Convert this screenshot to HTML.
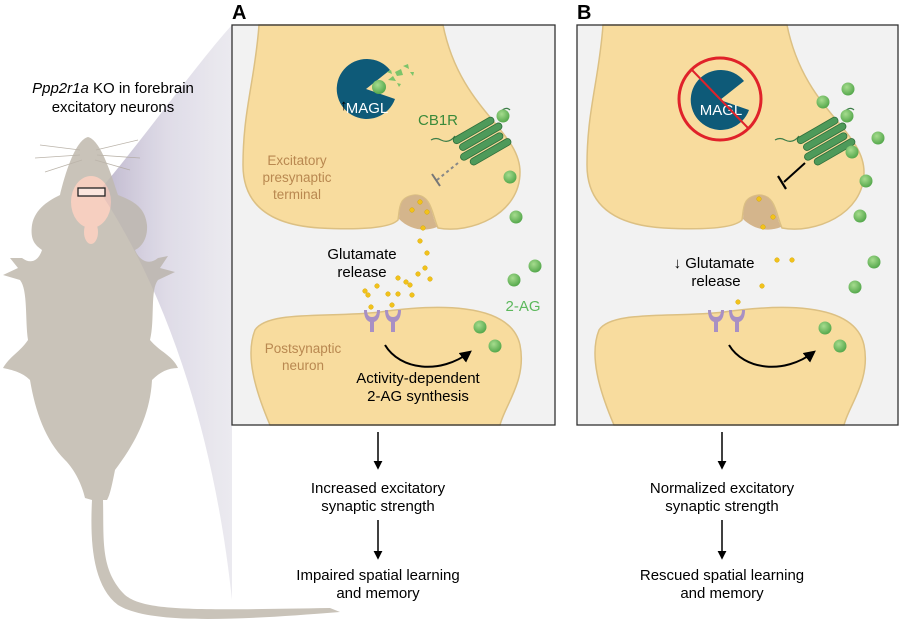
<!DOCTYPE html>
<html><head><meta charset="utf-8"><style>
html,body{margin:0;padding:0;background:#fff;}
svg{display:block;font-family:"Liberation Sans",Arial,sans-serif;}
</style></head><body>
<svg width="900" height="621" viewBox="0 0 900 621" xmlns="http://www.w3.org/2000/svg">
<defs>
<linearGradient id="cone" x1="0" y1="0" x2="1" y2="0">
<stop offset="0" stop-color="#8e7fa8" stop-opacity="0.5"/>
<stop offset="0.5" stop-color="#c4bdd6" stop-opacity="0.35"/>
<stop offset="1" stop-color="#ecebf1" stop-opacity="0.3"/>
</linearGradient>
<radialGradient id="gb" cx="0.4" cy="0.35" r="0.7">
<stop offset="0" stop-color="#a6dc8e"/><stop offset="1" stop-color="#4fa447"/>
</radialGradient>
<marker id="ah" viewBox="0 0 10 10" refX="8" refY="5" markerWidth="6" markerHeight="6" orient="auto"><path d="M0,0 L10,5 L0,10 z" fill="#000"/></marker>
<g id="pre">
<path d="M259,25 C255,80 243,110 243,165 C243,205 270,225 320,228 C360,230 390,228 398,220 C400,208 398,197 415,195 C432,195 432,215 438,228 C470,234 520,215 520,172 C520,130 460,110 443,25 Z" fill="#f8dc9e" stroke="#dcc083" stroke-width="1.5"/>
<path d="M399,219 C400,206 400,197 415,195 C431,195 431,214 437,227 C425,232 410,230 399,219 Z" fill="#d4b58c"/>
<path d="M270,425 C255,390 245,355 255,330 C268,310 330,318 380,312 C430,305 510,300 520,345 C527,380 505,405 500,425 Z" fill="#f8dc9e" stroke="#dcc083" stroke-width="1.5"/>
<g fill="#a890c4"><path d="M364,310 q0,10 6,12 v10 h4 v-10 q6,-2 6,-12 h-3 q0,7 -5,7 q-5,0 -5,-7z"/><path d="M385,310 q0,10 6,12 v10 h4 v-10 q6,-2 6,-12 h-3 q0,7 -5,7 q-5,0 -5,-7z"/></g>
<path d="M385,345 C400,370 440,375 470,352" fill="none" stroke="#000" stroke-width="2" marker-end="url(#ah)"/>
<path d="M455,136 q-6,8 -14,4 q-5,-3 -10,0" fill="none" stroke="#3c7d48" stroke-width="1.2"/>
<path d="M500,112 q6,-6 10,-2" fill="none" stroke="#3c7d48" stroke-width="1.2"/>
<g transform="translate(478,140) rotate(-30)" fill="#4e9a5a" stroke="#2f6e3a" stroke-width="0.8">
<rect x="-22" y="-14" width="46" height="7" rx="3.5"/>
<rect x="-20" y="-5" width="48" height="7" rx="3.5"/>
<rect x="-24" y="4" width="48" height="7" rx="3.5"/>
<rect x="-18" y="13" width="46" height="7" rx="3.5"/>
</g>
</g>
</defs>

<path d="M100,190 C150,130 200,60 232,25 L232,600 C215,440 170,300 104,198 Z" fill="url(#cone)"/>

<g fill="#c9c3b9">
<path d="M88,137 C100,140 110,170 118,195 C130,200 145,205 147,225 C148,240 140,248 135,250 C140,262 150,265 158,258 L168,256 L160,268 L175,272 L158,280 C150,290 155,320 150,340 C160,352 172,355 178,368 C168,368 160,372 152,380 C150,420 130,450 115,470 C112,485 110,495 107,500 L103,500 C104,540 100,570 125,595 C145,612 200,610 330,608 L340,612 C240,620 150,625 118,605 C92,585 90,540 92,500 L85,498 C82,485 75,470 65,460 C45,440 35,410 30,380 C22,372 12,370 3,368 C10,356 20,352 28,340 C25,320 28,290 20,280 L3,275 L18,268 L10,258 L22,258 C30,264 38,262 42,250 C35,245 30,240 32,225 C35,208 50,200 60,195 C66,170 76,140 88,137 Z"/>
</g>
<g stroke="#bbb4aa" stroke-width="0.8" fill="none">
<path d="M80,150 L40,145 M80,155 L35,158 M82,160 L45,172"/><path d="M96,150 L138,140 M97,155 L140,158 M95,160 L130,170"/>
</g>
<ellipse cx="91" cy="202" rx="20" ry="26" fill="#f6cfc0"/>
<ellipse cx="91" cy="232" rx="7" ry="12" fill="#f6cfc0"/>
<path d="M100,190 C150,130 200,60 232,25 L232,600 C215,440 170,300 104,198 Z" fill="#7a6a98" fill-opacity="0.1"/>
<rect x="78" y="188" width="27" height="8" fill="#fbe6de" stroke="#222" stroke-width="1.3"/>
<text x="113" y="93" font-size="15" text-anchor="middle"><tspan font-style="italic">Ppp2r1a</tspan> KO in forebrain</text>
<text x="113" y="112" font-size="15" text-anchor="middle">excitatory neurons</text>

<rect x="232" y="25" width="323" height="400" fill="#f2f2f2"/>
<use href="#pre"/>
<rect x="232" y="25" width="323" height="400" fill="none" stroke="#333" stroke-width="1.3"/>
<text x="232" y="19" font-size="20" font-weight="bold">A</text>
<path d="M366,89 L390,70 A30,30 0 1 0 395,99 Z" fill="#0e5a78"/>
<circle cx="379" cy="87" r="7" fill="url(#gb)"/>
<g fill="#7cc46a"><path d="M388,80 l5,-4 l3,5z"/><path d="M395,72 l6,-3 l2,6 l-6,1z"/><path d="M403,66 l5,-2 l1,5z"/><path d="M387,72 l4,-2 l1,4z"/><path d="M397,83 l4,1 l-2,3z"/><path d="M410,72 l4,0 l-1,4z"/></g>
<text x="340" y="110" font-size="15" fill="#000">↑</text>
<text x="367" y="113" font-size="15" fill="#fff" text-anchor="middle">MAGL</text>
<text x="418" y="125" font-size="15" fill="#3a8a3a">CB1R</text>
<circle cx="503" cy="116" r="6.5" fill="url(#gb)"/>
<path d="M458,163 L437,180" stroke="#888" stroke-width="2" stroke-dasharray="3,3"/>
<path d="M432,174 L440,186" stroke="#777" stroke-width="2"/>
<g fill="url(#gb)"><circle cx="510" cy="177" r="6.5"/><circle cx="516" cy="217" r="6.5"/><circle cx="535" cy="266" r="6.5"/><circle cx="514" cy="280" r="6.5"/><circle cx="480" cy="327" r="6.5"/><circle cx="495" cy="346" r="6.5"/></g>
<g fill="#f2c21a" stroke="#d9a800" stroke-width="0.5"><circle cx="420" cy="202" r="2.3"/><circle cx="412" cy="210" r="2.3"/><circle cx="427" cy="212" r="2.3"/><circle cx="423" cy="228" r="2.3"/><circle cx="420" cy="241" r="2.3"/><circle cx="427" cy="253" r="2.3"/><circle cx="425" cy="268" r="2.3"/><circle cx="418" cy="274" r="2.3"/><circle cx="430" cy="279" r="2.3"/><circle cx="398" cy="278" r="2.3"/><circle cx="406" cy="282" r="2.3"/><circle cx="410" cy="285" r="2.3"/><circle cx="377" cy="286" r="2.3"/><circle cx="365" cy="291" r="2.3"/><circle cx="368" cy="295" r="2.3"/><circle cx="388" cy="294" r="2.3"/><circle cx="398" cy="294" r="2.3"/><circle cx="412" cy="295" r="2.3"/><circle cx="371" cy="307" r="2.3"/><circle cx="392" cy="305" r="2.3"/></g>
<g font-size="13.5" fill="#b98850" text-anchor="middle"><text x="297" y="165">Excitatory</text><text x="297" y="182">presynaptic</text><text x="297" y="199">terminal</text><text x="303" y="353">Postsynaptic</text><text x="303" y="370">neuron</text></g>
<g font-size="15" text-anchor="middle"><text x="362" y="259">Glutamate</text><text x="362" y="277">release</text><text x="418" y="383">Activity-dependent</text><text x="418" y="401">2-AG synthesis</text></g>
<text x="523" y="311" font-size="15" fill="#5cb85c" text-anchor="middle">2-AG</text>

<rect x="577" y="25" width="321" height="400" fill="#f2f2f2"/>
<use href="#pre" transform="translate(344,0)"/>
<rect x="577" y="25" width="321" height="400" fill="none" stroke="#333" stroke-width="1.3"/>
<text x="577" y="19" font-size="20" font-weight="bold">B</text>
<path d="M720,100 L744,81 A30,30 0 1 0 749,110 Z" fill="#0e5a78"/>
<text x="721" y="115" font-size="15" fill="#fff" text-anchor="middle">MAGL</text>
<circle cx="720" cy="99" r="41" fill="none" stroke="#e0222a" stroke-width="3"/>
<path d="M692,70 L748,128" stroke="#e0222a" stroke-width="2"/>
<path d="M805,163 L784,182" stroke="#000" stroke-width="2"/>
<path d="M778,176 L786,189" stroke="#000" stroke-width="2.2"/>
<g fill="url(#gb)"><circle cx="848" cy="89" r="6.5"/><circle cx="823" cy="102" r="6.5"/><circle cx="847" cy="116" r="6.5"/><circle cx="878" cy="138" r="6.5"/><circle cx="852" cy="152" r="6.5"/><circle cx="866" cy="181" r="6.5"/><circle cx="860" cy="216" r="6.5"/><circle cx="874" cy="262" r="6.5"/><circle cx="855" cy="287" r="6.5"/><circle cx="825" cy="328" r="6.5"/><circle cx="840" cy="346" r="6.5"/></g>
<g fill="#f2c21a" stroke="#d9a800" stroke-width="0.5"><circle cx="759" cy="199" r="2.3"/><circle cx="773" cy="217" r="2.3"/><circle cx="763" cy="227" r="2.3"/><circle cx="777" cy="260" r="2.3"/><circle cx="792" cy="260" r="2.3"/><circle cx="762" cy="286" r="2.3"/><circle cx="738" cy="302" r="2.3"/></g>
<g font-size="15" text-anchor="middle"><text x="714" y="268">↓ Glutamate</text><text x="716" y="286">release</text></g>

<g stroke="#000" stroke-width="1.5"><path d="M378,432 L378,468" marker-end="url(#ah)"/><path d="M378,520 L378,558" marker-end="url(#ah)"/><path d="M722,432 L722,468" marker-end="url(#ah)"/><path d="M722,520 L722,558" marker-end="url(#ah)"/></g>
<g font-size="15" text-anchor="middle">
<text x="378" y="493">Increased excitatory</text><text x="378" y="511">synaptic strength</text>
<text x="378" y="580">Impaired spatial learning</text><text x="378" y="598">and memory</text>
<text x="722" y="493">Normalized excitatory</text><text x="722" y="511">synaptic strength</text>
<text x="722" y="580">Rescued spatial learning</text><text x="722" y="598">and memory</text>
</g>
</svg>
</body></html>
